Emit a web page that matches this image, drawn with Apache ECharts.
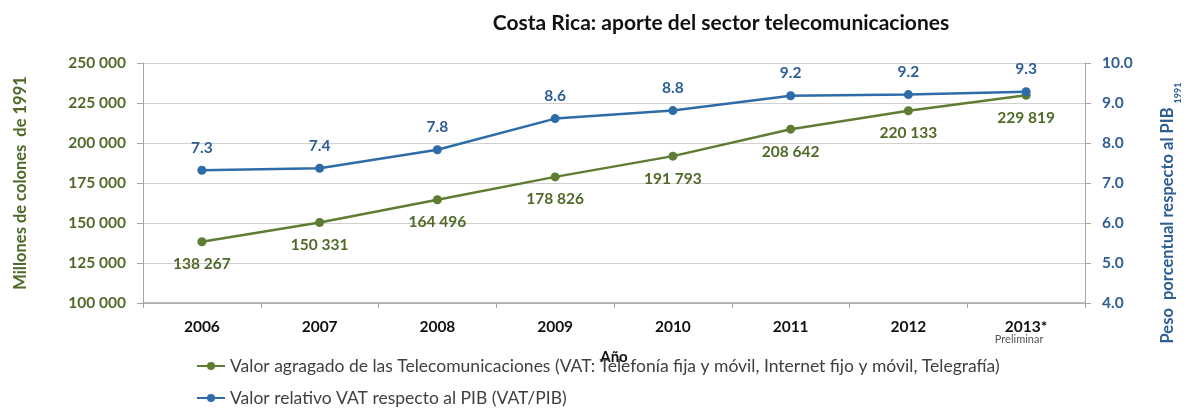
<!DOCTYPE html>
<html><head><meta charset="utf-8">
<script src="https://cdn.jsdelivr.net/npm/echarts@6/dist/echarts.min.js"></script>
<style>html,body{margin:0;padding:0;background:#fff}#c{width:1191px;height:408px}</style>
</head><body><div id="c"></div>
<script>
const years = ['2006','2007','2008','2009','2010','2011','2012','2013*'];
const vatValues = [138267, 150331, 164496, 178826, 191793, 208642, 220133, 229819];
const vatPibValues = [7.32, 7.37, 7.83, 8.61, 8.81, 9.18, 9.21, 9.28];
const leftTicks = {min: 100000, max: 250000, interval: 25000};
const rightTicks = {min: 4, max: 10, interval: 1};
const seriesNames = [
  'Valor agragado de las Telecomunicaciones (VAT: Telefonía fija y móvil, Internet fijo y móvil, Telegrafía)',
  'Valor relativo VAT respecto al PIB (VAT/PIB)'
];

const FONT = 'Lato';
const GREEN = '#5E7D32', GREEN_T = '#4F6A28';
const BLUE = '#2D6CA8', BLUE_T = '#2E5E95';
const fmtSpace = v => String(Math.round(v)).replace(/\B(?=(\d{3})+(?!\d))/g, ' ');

const legendBase = {
  orient: 'vertical', left: 191, itemWidth: 28, itemHeight: 10,
  textStyle: {fontFamily: FONT, fontSize: 17.5, color: '#404040'}
};

const chart = echarts.init(document.getElementById('c'));
chart.setOption({
  animation: false,
  textStyle: {fontFamily: FONT},
  title: {
    text: 'Costa Rica: aporte del sector telecomunicaciones',
    left: 716, top: 8, textAlign: 'center',
    textStyle: {fontFamily: FONT, fontSize: 21, fontWeight: 'bold', color: '#111'}
  },
  grid: {left: 143, right: 95, top: 63, bottom: 105, containLabel: false},
  legend: [
    Object.assign({top: 352, data: [seriesNames[0]]}, legendBase),
    Object.assign({top: 384, data: [seriesNames[1]]}, legendBase)
  ],
  xAxis: {
    type: 'category', data: years,
    name: 'Año', nameLocation: 'middle', nameGap: 46,
    nameTextStyle: {fontFamily: FONT, fontSize: 15, fontWeight: 'bold', color: '#111'},
    axisLine: {lineStyle: {color: '#a6a6a6', width: 1.5}},
    axisTick: {show: true, length: 5, interval: 0, lineStyle: {color: '#a6a6a6'}},
    axisLabel: {
      interval: 0,
      margin: 16, color: '#111', fontFamily: FONT, fontSize: 15.5, fontWeight: 'bold',
      formatter: v => v === '2013*' ? '2013*\n{p|Preliminar}' : v,
      rich: {p: {fontSize: 11, color: '#555', fontWeight: 'normal', lineHeight: 9, padding: [0, 14, 0, 0]}}
    }
  },
  yAxis: [
    {
      type: 'value', min: leftTicks.min, max: leftTicks.max, interval: leftTicks.interval,
      name: 'Millones de colones  de 1991', nameLocation: 'middle', nameGap: 114, nameRotate: 90,
      nameTextStyle: {fontFamily: FONT, fontSize: 16.5, fontWeight: 'bold', color: GREEN_T},
      axisLine: {show: true, lineStyle: {color: '#a6a6a6'}},
      axisTick: {show: true, length: 6, lineStyle: {color: '#a6a6a6'}},
      splitLine: {lineStyle: {color: '#d0d0d0', width: 1}},
      axisLabel: {margin: 17, color: GREEN_T, fontFamily: FONT, fontSize: 15.5, fontWeight: 'bold', formatter: fmtSpace}
    },
    {
      type: 'value', min: rightTicks.min, max: rightTicks.max, interval: rightTicks.interval,
      name: '{a|Peso  porcentual respecto al PIB} {b|1991}', nameLocation: 'middle', nameGap: 74, nameRotate: 90,
      nameTextStyle: {
        fontFamily: FONT, fontSize: 16.5, fontWeight: 'bold', color: BLUE_T,
        padding: [0, 60, 0, 0],
        rich: {
          a: {fontFamily: FONT, fontSize: 16.5, fontWeight: 'bold', color: BLUE_T, lineHeight: 24, verticalAlign: 'top'},
          b: {fontFamily: FONT, fontSize: 9, fontWeight: 'bold', color: BLUE_T, lineHeight: 24, verticalAlign: 'bottom', padding: [12, 0, 0, 0]}
        }
      },
      axisLine: {show: true, lineStyle: {color: '#a6a6a6'}},
      axisTick: {show: true, length: 6, lineStyle: {color: '#a6a6a6'}},
      splitLine: {show: false},
      axisLabel: {margin: 17, color: BLUE_T, fontFamily: FONT, fontSize: 15.5, fontWeight: 'bold', formatter: v => v.toFixed(1)}
    }
  ],
  series: [
    {
      name: seriesNames[0], type: 'line', yAxisIndex: 0, data: vatValues,
      symbol: 'circle', symbolSize: 9,
      lineStyle: {color: GREEN, width: 2.5}, itemStyle: {color: GREEN},
      label: {show: true, position: 'bottom', distance: 10, color: GREEN_T, fontFamily: FONT, fontSize: 15.5, fontWeight: 'bold',
        formatter: p => fmtSpace(p.value)}
    },
    {
      name: seriesNames[1], type: 'line', yAxisIndex: 1, data: vatPibValues,
      symbol: 'circle', symbolSize: 9,
      lineStyle: {color: BLUE, width: 2.5}, itemStyle: {color: BLUE},
      label: {show: true, position: 'top', distance: 10, color: BLUE_T, fontFamily: FONT, fontSize: 15.5, fontWeight: 'bold',
        formatter: p => p.value.toFixed(1)}
    }
  ]
});
</script></body></html>
